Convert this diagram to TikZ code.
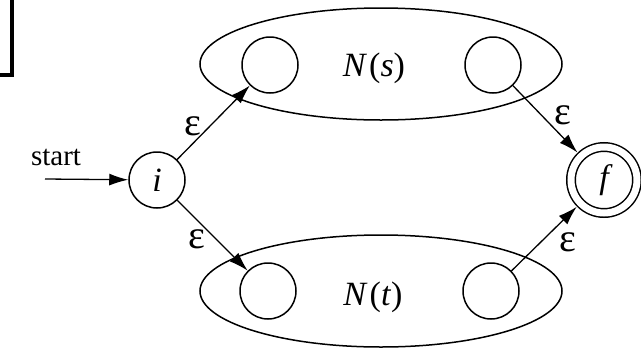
\documentclass[tikz,border=0pt]{standalone}
\usepackage{fontspec}
\setmainfont{Liberation Serif}
\usetikzlibrary{positioning, shapes.geometric, arrows.meta}

\begin{document}
\begin{tikzpicture}[x=1pt, y=-1pt,
		state/.style={draw, circle, line width=1.5pt, minimum size=56pt, inner sep=0pt, font=\fontsize{34}{36}\selectfont\itshape},
		final/.style={state, minimum size=66pt, double, double distance=7pt, outer sep=5.2pt},
		nfa/.style={draw, ellipse, line width=1.5pt, minimum width=362pt, minimum height=112pt},
		lbl/.style={font=\fontsize{34}{36}\selectfont},
		eps/.style={font=\fontsize{40}{42}\selectfont, inner sep=2pt},
		arr/.style={-{Latex[length=19pt, width=12pt]}, line width=1.3pt},
	]
	\useasboundingbox (0,0) rectangle (641,349);

	% leftover corner of a frame
	\draw[line width=3.5pt] (0,75) -- (12,75) -- (12,0);

	% start state
	\node[state] (i) at (157,180) {i};
	\coordinate (in) at (45,179);
	\node[font=\fontsize{29}{31}\selectfont] (startlbl) at (56,157) {start};

	% N(s) and N(t)
	\node[nfa] (ns) at (381,64) {};
	\node[nfa] (nt) at (381,291) {};
	\node[lbl] at (374,68) {\textit{N}\kern2pt(\textit{s})};
	\node[lbl] at (373,297) {\textit{N}\kern2pt(\textit{t})};

	% inner states
	\node[state] (s1) at (270,65) {};
	\node[state] (s2) at (493,65) {};
	\node[state] (t1) at (268,291) {};
	\node[state] (t2) at (491,291) {};

	% final state
	\node[final] (f) at (604,180) {f};

	% connectors
	\draw[arr] (in) -- (i);
	\draw[arr] (i) -- node[eps, left=6pt, pos=.45] {ε} (s1);
	\draw[arr] (i) -- node[eps, left=8pt, pos=.55] {ε} (t1);
	\draw[arr] (s2) -- node[eps, right=10pt, pos=.45] {ε} (f);
	\draw[arr] (t2) -- node[eps, right=16pt, pos=.45] {ε} (f);
\end{tikzpicture}
\end{document}
